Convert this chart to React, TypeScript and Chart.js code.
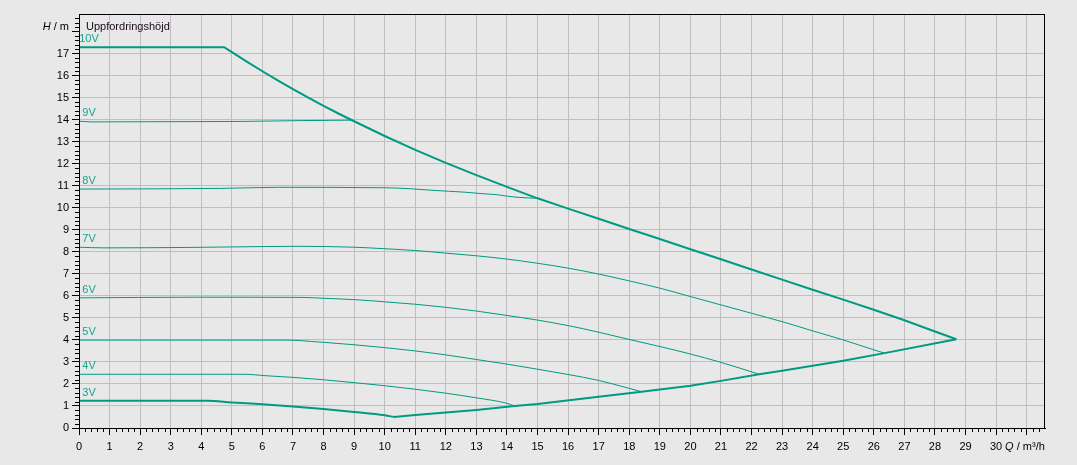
import React, { useEffect, useRef } from 'react';
import { Chart, registerables } from 'chart.js';
Chart.register(...registerables);

// ---- data ----
const xMin = 0;
const xMax = 31.6;
const yMin = 0;
const yMax = 18.8;
const xMajorTicks = Array.from({ length: 32 }, (_, i) => i); // 0..31
const yMajorTicks = Array.from({ length: 19 }, (_, i) => i); // 0..18
const xLabelLast = 30;
const yLabelLast = 17;
const yGridLast = 17;

const xAxisTitleItalic = 'Q';
const xAxisTitleRest = ' / m³/h';
const yAxisTitleItalic = 'H';
const yAxisTitleRest = ' / m';
const yAxisCaption = 'Uppfordringshöjd';

const curveNames = ['10V', '9V', '8V', '7V', '6V', '5V', '4V', '3V'];

const q10V = [0, 4.75, 5.0, 5.5, 6.0, 6.5, 7.0, 7.5, 8.0, 8.5, 9.0, 10.0, 11.0, 12.0, 13.0, 14.0, 15.0, 16.0, 17.0, 18.0, 19.0, 20.0, 21.0, 22.0, 23.0, 24.0, 25.0, 26.0, 27.0, 28.0, 28.7];
const h10V = [17.29, 17.29, 17.07, 16.63, 16.2, 15.79, 15.39, 15.0, 14.63, 14.27, 13.93, 13.26, 12.63, 12.04, 11.48, 10.95, 10.43, 9.96, 9.5, 9.04, 8.58, 8.12, 7.66, 7.2, 6.74, 6.28, 5.83, 5.37, 4.89, 4.38, 4.03];

const q9V = [0, 0.4, 5.2, 7.3, 8.95];
const h9V = [13.93, 13.9, 13.92, 13.96, 13.98];

const q8V = [0, 4.6, 6.5, 10.0, 10.9, 11.6, 12.6, 13.2, 13.7, 14.1, 14.4, 15.0];
const h8V = [10.85, 10.88, 10.93, 10.91, 10.86, 10.79, 10.71, 10.64, 10.59, 10.51, 10.47, 10.43];

const q7V = [0, 0.8, 3.6, 6.1, 7.2, 9.0, 10.0, 11.0, 12.0, 13.0, 14.0, 15.0, 16.0, 17.0, 18.0, 19.0, 20.0, 21.0, 22.0, 23.0, 24.0, 25.0, 26.0, 26.35];
const h7V = [8.21, 8.18, 8.2, 8.24, 8.25, 8.21, 8.14, 8.06, 7.94, 7.82, 7.67, 7.48, 7.26, 6.99, 6.68, 6.35, 5.97, 5.59, 5.21, 4.83, 4.41, 4.0, 3.55, 3.4];

const q6V = [0, 3.9, 7.3, 8.0, 9.0, 10.0, 11.0, 12.0, 13.0, 14.0, 15.0, 16.0, 17.0, 18.0, 19.0, 20.0, 21.0, 22.25];
const h6V = [5.91, 5.94, 5.93, 5.89, 5.83, 5.73, 5.62, 5.48, 5.31, 5.11, 4.9, 4.65, 4.35, 4.02, 3.7, 3.36, 2.98, 2.44];

const q5V = [0, 6.9, 7.6, 8.0, 9.0, 10.0, 11.0, 12.0, 13.0, 14.0, 15.0, 16.0, 17.0, 18.0, 18.4];
const h5V = [3.99, 3.99, 3.93, 3.89, 3.78, 3.65, 3.5, 3.32, 3.11, 2.9, 2.67, 2.43, 2.16, 1.8, 1.65];

const q4V = [0, 5.4, 6.15, 7.0, 8.0, 9.0, 10.0, 11.0, 12.0, 13.0, 14.0, 14.25];
const h4V = [2.44, 2.44, 2.37, 2.3, 2.19, 2.06, 1.92, 1.76, 1.58, 1.37, 1.12, 1.0];

const q3V = [0, 4.2, 5.0, 6.0, 7.0, 8.0, 9.0, 10.0, 10.3];
const h3V = [1.24, 1.24, 1.16, 1.08, 0.98, 0.86, 0.73, 0.58, 0.5];

const qMin = [10.3, 11.0, 12.0, 13.0, 14.25, 15.0, 17.0, 18.4, 20.0, 21.0, 22.25, 23.0, 25.0, 26.35, 28.7];
const hMin = [0.5, 0.59, 0.7, 0.82, 1.0, 1.09, 1.42, 1.65, 1.92, 2.14, 2.44, 2.6, 3.05, 3.4, 4.03];

// ---- styles ----
const TEAL = '#009a82';
const LABEL_TEAL = '#1aa390';
const BG = '#e8e8e8';
const GRID = '#bfbfbf';
const FONT = '"Liberation Sans", Arial, sans-serif';
const FONT_SIZE = 11;

const pts = (xs: number[], ys: number[]) => xs.map((x, i) => ({ x, y: ys[i] }));

const curves = [
  { name: curveNames[0], q: q10V, h: h10V, w: 2, smooth: false },
  { name: curveNames[1], q: q9V, h: h9V, w: 1, smooth: false },
  { name: curveNames[2], q: q8V, h: h8V, w: 1, smooth: true },
  { name: curveNames[3], q: q7V, h: h7V, w: 1, smooth: true },
  { name: curveNames[4], q: q6V, h: h6V, w: 1, smooth: true },
  { name: curveNames[5], q: q5V, h: h5V, w: 1, smooth: true },
  { name: curveNames[6], q: q4V, h: h4V, w: 1, smooth: true },
  { name: curveNames[7], q: q3V, h: h3V, w: 2, smooth: true },
  { name: 'min', q: qMin, h: hMin, w: 2, smooth: false },
];

const decorPlugin = {
  id: 'decor',
  beforeDraw(chart: any) {
    const ctx = chart.ctx;
    ctx.save();
    ctx.fillStyle = BG;
    ctx.fillRect(0, 0, chart.width, chart.height);
    ctx.restore();
  },
  afterDraw(chart: any) {
    const ctx = chart.ctx;
    const xs = chart.scales.x;
    const ys = chart.scales.y;
    const a = chart.chartArea;
    ctx.save();
    // frame
    ctx.strokeStyle = '#000';
    ctx.lineWidth = 1;
    ctx.strokeRect(Math.round(a.left) + 0.5, Math.round(a.top) + 0.5, Math.round(a.right - a.left) - 1, Math.round(a.bottom - a.top));
    // minor ticks
    ctx.beginPath();
    for (let i = 1; i * 0.2 < xMax; i++) {
      if (i % 5 === 0) continue;
      const px = Math.round(xs.getPixelForValue(i * 0.2)) + 0.5;
      ctx.moveTo(px, a.bottom);
      ctx.lineTo(px, a.bottom + 4);
    }
    for (let i = 1; i * 0.2 < yMax; i++) {
      if (i % 5 === 0) continue;
      const py = Math.round(ys.getPixelForValue(i * 0.2)) + 0.5;
      ctx.moveTo(a.left, py);
      ctx.lineTo(a.left - 4, py);
    }
    ctx.stroke();

    // axis titles
    ctx.fillStyle = '#000';
    ctx.textBaseline = 'middle';
    const yTitleY = ys.getPixelForValue(18) - 5;
    ctx.font = `${FONT_SIZE}px ${FONT}`;
    const restW = ctx.measureText(yAxisTitleRest).width;
    ctx.textAlign = 'right';
    const rightEdge = a.left - 10;
    ctx.fillText(yAxisTitleRest, rightEdge, yTitleY);
    ctx.font = `italic ${FONT_SIZE}px ${FONT}`;
    ctx.fillText(yAxisTitleItalic, rightEdge - restW, yTitleY);
    ctx.font = `${FONT_SIZE}px ${FONT}`;
    ctx.textAlign = 'left';
    ctx.fillStyle = '#1a0a1a';
    ctx.fillText(yAxisCaption, a.left + 7, yTitleY);

    ctx.fillStyle = '#000';
    const xTitleX = xs.getPixelForValue(30) + 9;
    const xTitleY = a.bottom + 19;
    ctx.font = `italic ${FONT_SIZE}px ${FONT}`;
    ctx.fillText(xAxisTitleItalic, xTitleX, xTitleY);
    const qW = ctx.measureText(xAxisTitleItalic).width;
    ctx.font = `${FONT_SIZE}px ${FONT}`;
    ctx.fillText(xAxisTitleRest, xTitleX + qW, xTitleY);

    // curve labels
    ctx.fillStyle = LABEL_TEAL;
    ctx.textAlign = 'center';
    curves.forEach((c) => {
      if (c.name === 'min') return;
      const px = xs.getPixelForValue(0) + 10;
      const py = ys.getPixelForValue(c.h[0]) - 8;
      ctx.fillText(c.name, px, py);
    });
    ctx.restore();
  },
};

export default function App() {
  const ref = useRef<HTMLCanvasElement | null>(null);
  useEffect(() => {
    if (!ref.current) return;
    const chart = new Chart(ref.current, {
      type: 'line',
      data: {
        datasets: curves.map((c) => ({
          label: c.name,
          data: pts(c.q, c.h),
          borderColor: TEAL,
          backgroundColor: TEAL,
          borderWidth: c.w,
          pointRadius: 0,
          tension: 0,
          cubicInterpolationMode: c.smooth ? 'monotone' : 'default',
          fill: false,
        })),
      },
      options: {
        animation: false,
        responsive: false,
        maintainAspectRatio: false,
        layout: { padding: { left: 0, top: 14, right: 32, bottom: 0 } },
        plugins: { legend: { display: false }, tooltip: { enabled: false } },
        scales: {
          x: {
            type: 'linear',
            min: xMin,
            max: xMax,
            afterBuildTicks: (s: any) => {
              s.ticks = xMajorTicks.map((v) => ({ value: v }));
            },
            afterFit: (s: any) => {
              s.height = 37;
            },
            ticks: {
              autoSkip: false,
              maxRotation: 0,
              padding: 5,
              color: '#000',
              font: { family: FONT, size: FONT_SIZE },
              callback: (v: any) => (Number(v) <= xLabelLast ? String(v) : ''),
            },
            grid: {
              color: GRID,
              lineWidth: 1,
              tickLength: 7,
              tickColor: '#000',
              drawTicks: true,
            },
            border: { color: '#000', width: 1 },
          },
          y: {
            type: 'linear',
            min: yMin,
            max: yMax,
            afterBuildTicks: (s: any) => {
              s.ticks = yMajorTicks.map((v) => ({ value: v }));
            },
            afterFit: (s: any) => {
              s.width = 79;
            },
            ticks: {
              autoSkip: false,
              padding: 3,
              color: '#000',
              font: { family: FONT, size: FONT_SIZE },
              callback: (v: any) => (Number(v) <= yLabelLast ? String(v) : ''),
            },
            grid: {
              color: (ctx: any) => (ctx.tick && ctx.tick.value > yGridLast ? 'rgba(0,0,0,0)' : GRID),
              lineWidth: 1,
              tickLength: 7,
              tickColor: '#000',
              drawTicks: true,
            },
            border: { color: '#000', width: 1 },
          },
        },
      },
      plugins: [decorPlugin],
    } as any);
    return () => chart.destroy();
  }, []);
  return (
    <div style={{ position: 'fixed', left: 0, top: 0, width: 1077, height: 465, background: BG }}>
      <canvas ref={ref} width={1077} height={465} style={{ display: 'block', width: 1077, height: 465 }} />
    </div>
  );
}
